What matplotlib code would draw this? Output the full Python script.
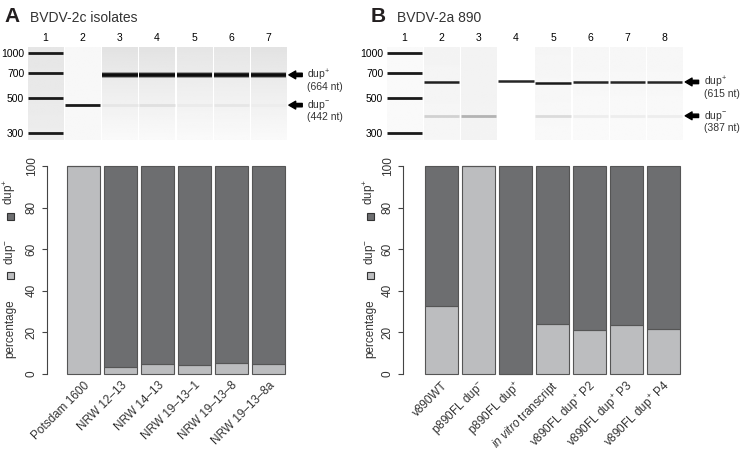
import numpy as np
import matplotlib.pyplot as plt
import matplotlib.transforms as mtransforms
from matplotlib.patches import Rectangle

plt.rcParams['font.family'] = ['Liberation Sans', 'DejaVu Sans']
plt.rcParams['mathtext.fontset'] = 'custom'
plt.rcParams['mathtext.rm'] = 'Liberation Sans'
plt.rcParams['mathtext.it'] = 'Liberation Sans:italic'
plt.rcParams['text.color'] = '#333333'

W, H = 740, 458

# ---- bar chart data ----
iso_names = ['Potsdam 1600', 'NRW 12\u201313', 'NRW 14\u201313', 'NRW 19\u201313\u20131',
             'NRW 19\u201313\u20138', 'NRW 19\u201313\u20138a']
iso_minus = [100, 3.2, 4.6, 4.2, 5.1, 4.6]
iso_plus = [0, 96.8, 95.4, 95.8, 94.9, 95.4]

b_names = ['v890WT', 'p890FL dup$^{-}$', 'p890FL dup$^{+}$', r'$\it{in\ vitro}$ transcript',
           'v890FL dup$^{+}$ P2', 'v890FL dup$^{+}$ P3', 'v890FL dup$^{+}$ P4']
b_minus = [32.5, 100, 0, 23.8, 21.0, 23.7, 21.4]
b_plus = [67.5, 0, 100, 76.2, 79.0, 76.3, 78.6]

# ---- gel data (migration as fraction of gel height) ----
ladder_nt = [1000, 700, 500, 300]
ladder_y = [0.065, 0.28, 0.552, 0.92]

gel_a_plus_y = 0.30
gel_a_minus_y = 0.625
gel_a_plus_int = [0, 0, 0.95, 0.95, 0.95, 0.95, 0.95]
gel_a_minus_int = [0, 0.9, 0.10, 0.12, 0.08, 0.10, 0.07]
gel_a_bg_top = [0.90, 0.97, 0.89, 0.89, 0.90, 0.90, 0.89]
gel_a_bg_bot = [0.93, 0.97, 0.98, 0.98, 0.98, 0.98, 0.98]

gel_b_plus_y = [0, 0.378, 0, 0.368, 0.383, 0.373, 0.373, 0.373]
gel_b_minus_y = 0.74
gel_b_plus_int = [0, 0.88, 0, 0.85, 0.9, 0.85, 0.85, 0.85]
gel_b_minus_int = [0, 0.18, 0.30, 0, 0.14, 0.07, 0.07, 0.07]
gel_b_bg_top = [0.98, 0.955, 0.95, 1.0, 0.96, 0.965, 0.965, 0.965]
gel_b_bg_bot = [0.98, 0.965, 0.955, 1.0, 0.975, 0.98, 0.98, 0.98]

light = '#bcbdbf'
dark = '#6d6e70'
edge = '#555555'

fig = plt.figure(figsize=(7.4, 4.58), dpi=100)


def fig_ax(x0, y0, x1, y1):
    return fig.add_axes([x0 / W, 1 - y1 / H, (x1 - x0) / W, (y1 - y0) / H])


def draw_gel(ax, bg_top, bg_bot, plus_y, minus_y, plus_int, minus_int, halo=True):
    n = len(bg_top)
    for i in range(n):
        x = i + 1
        grad = np.linspace(bg_top[i], bg_bot[i], 50).reshape(-1, 1)
        ax.imshow(grad, extent=(x - 0.475, x + 0.475, 1, 0), cmap='gray',
                  vmin=0, vmax=1, aspect='auto', interpolation='bilinear')
        py = plus_y[i] if np.iterable(plus_y) else plus_y
        if plus_int[i] > 0:
            if halo:
                ax.hlines(py, x - 0.475, x + 0.475, color='0.6', lw=4.2)
            ax.hlines(py, x - 0.475, x + 0.475, color=str(1 - plus_int[i]), lw=2.6 if halo else 1.8)
        if minus_int[i] > 0:
            ax.hlines(minus_y, x - 0.475, x + 0.475, color=str(1 - minus_int[i]), lw=2.0)
    # ladder
    ax.hlines(ladder_y, 1 - 0.475, 1 + 0.475, color='#1a1a1a', lw=2.0)
    ax.set_xlim(0.5, n + 0.5)
    ax.set_ylim(1, 0)
    ax.set_yticks(ladder_y)
    ax.set_yticklabels([str(v) for v in ladder_nt], fontsize=7.5)
    ax.set_xticks(range(1, n + 1))
    ax.set_xticklabels([str(v) for v in range(1, n + 1)], fontsize=7.5)
    ax.xaxis.set_ticks_position('top')
    ax.tick_params(length=0, pad=2)
    ax.tick_params(axis='x', pad=3)
    for s in ax.spines.values():
        s.set_visible(False)


def gel_labels(ax, x_arrow, y_plus, y_minus, nt_plus, nt_minus):
    for y, lab, nt in [(y_plus, 'dup$^{+}$', nt_plus), (y_minus, 'dup$^{-}$', nt_minus)]:
        ax.annotate('', xy=(x_arrow, y), xytext=(x_arrow + 0.36, y), annotation_clip=False,
                    arrowprops=dict(arrowstyle='simple,head_length=0.7,head_width=0.8,tail_width=0.35',
                                    fc='black', ec='black', mutation_scale=7, shrinkA=0, shrinkB=0))
        ax.text(x_arrow + 0.5, y, lab, fontsize=7.5, va='center', ha='left', clip_on=False)
        ax.text(x_arrow + 0.5, y + 0.13, '(%d nt)' % nt, fontsize=7.5, va='center',
                ha='left', clip_on=False)


def draw_bars(ax, names, minus, plus, xlim):
    x = np.arange(len(names))
    ax.bar(x, minus, width=0.9, color=light, edgecolor=edge, lw=0.8)
    ax.bar(x, plus, bottom=minus, width=0.9, color=dark, edgecolor=edge, lw=0.8)
    ax.set_xlim(*xlim)
    ax.set_ylim(-4, 104)
    for s in ['top', 'right', 'bottom']:
        ax.spines[s].set_visible(False)
    ax.spines['left'].set_bounds(0, 100)
    ax.spines['left'].set_color('#444444')
    ax.spines['left'].set_linewidth(0.8)
    ax.set_yticks([0, 20, 40, 60, 80, 100])
    ax.set_yticklabels(['0', '20', '40', '60', '80', '100'], rotation=90, va='center', fontsize=8.5)
    ax.tick_params(axis='y', length=3.6, width=0.8, color='#444444', pad=3, labelcolor='#333333')
    ax.set_xticks(x)
    ax.set_xticklabels(names, rotation=45, ha='right', va='center', rotation_mode='anchor',
                       fontsize=8.5, color='#333333')
    ax.tick_params(axis='x', length=0, pad=1)
    shift = mtransforms.ScaledTranslation(3 / 72, 0, fig.dpi_scale_trans)
    for lab in ax.get_xticklabels():
        lab.set_transform(lab.get_transform() + shift)


def ylegend(xc):
    fig.text(xc / W, 1 - 329 / H, 'percentage', rotation=90, ha='center', va='center', fontsize=8.5)
    fig.text(xc / W, 1 - 252 / H, 'dup$^{-}$', rotation=90, ha='center', va='center', fontsize=8.5)
    fig.text(xc / W, 1 - 192 / H, 'dup$^{+}$', rotation=90, ha='center', va='center', fontsize=8.5)
    for yc, col in [(275, light), (216, dark)]:
        fig.add_artist(Rectangle(((xc - 3.5) / W, 1 - (yc + 3.5) / H), 7 / W, 7 / H,
                                 transform=fig.transFigure, fc=col, ec='#333333', lw=0.8))


# ---- panel A ----
fig.text(4 / W, 1 - 17 / H, 'A', fontsize=15, fontweight='bold', va='center', color='#231f20')
fig.text(30 / W, 1 - 18 / H, 'BVDV-2c isolates', fontsize=10, va='center')
gax = fig_ax(27, 47, 287, 140)
draw_gel(gax, gel_a_bg_top, gel_a_bg_bot, gel_a_plus_y, gel_a_minus_y, gel_a_plus_int, gel_a_minus_int)
gel_labels(gax, 7.55, gel_a_plus_y, gel_a_minus_y, 664, 442)
bax = fig_ax(47, 157.7, 290, 382.3)
draw_bars(bax, iso_names, iso_minus, iso_plus, (-0.99, 5.58))
ylegend(10)

# ---- panel B ----
fig.text(371 / W, 1 - 17 / H, 'B', fontsize=15, fontweight='bold', va='center', color='#231f20')
fig.text(397 / W, 1 - 18 / H, 'BVDV-2a 890', fontsize=10, va='center')
gbx = fig_ax(386, 47, 683, 140)
draw_gel(gbx, gel_b_bg_top, gel_b_bg_bot, gel_b_plus_y, gel_b_minus_y, gel_b_plus_int,
         gel_b_minus_int, halo=False)
gel_labels(gbx, 8.56, 0.376, gel_b_minus_y, 615, 387)
bbx = fig_ax(403, 157.7, 690, 382.3)
draw_bars(bbx, b_names, b_minus, b_plus, (-1.045, 6.71))
ylegend(370)

fig.savefig('out.png', dpi=100)
